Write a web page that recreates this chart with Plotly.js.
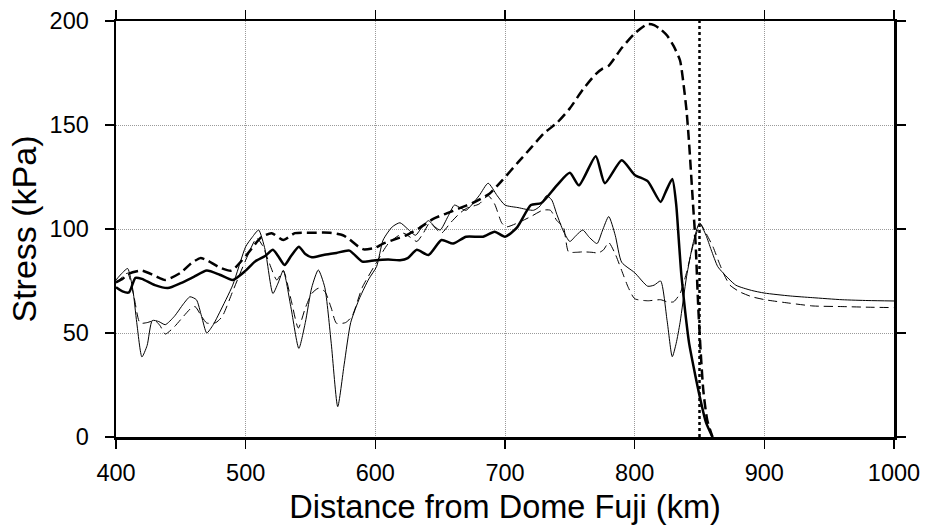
<!DOCTYPE html>
<html>
<head>
<meta charset="utf-8">
<script src="https://cdn.plot.ly/plotly-3.0.1.min.js"></script>
<style>html,body{margin:0;padding:0;background:#fff;}#chart{width:929px;height:528px;}</style>
</head>
<body>
<div id="chart"></div>
<script>
// Thick solid series
const thickSolidX = [400,405,410,415,420,430,440,450,460,470,480,490,500,507,515,521,525,530,535,541,546,551,560,570,580,590,600,610,619,625,632,641,651,660,670,683,692,700,709,720,728,740,750,757,770,777,790,800,810,820,824,829,832,834,836,839,842,846,850,855,860];
const thickSolidY = [72,70,69.5,76.5,76,73,71.6,74,77,80,78,75.5,80,84.3,87,90,87,82.7,87,91.5,88,86.4,87.5,88.5,89.6,84.3,85,85.3,85,86,90,87.5,94.7,93,96.3,96.3,98.7,96.3,100.5,111.5,112.5,121,127,121,135,122,133,126,123,113,118,124,112,95,78,60,45,32,20,7,0];

// Thick dashed series
const thickDashX = [400,405,410,420,430,438,450,458,465,470,480,489,500,512,520,529,538,550,565,575,580,587,591,600,606,615,624,634,645,655,665,675,688,698,710,720,730,740,750,760,770,775,780,790,800,810,815,820,825,830,835,838,840,842,845,847,849,851,853,856,860];
const thickDashY = [74.4,76,78.5,80,77.5,75.5,79,83.5,86,85,81.5,80,87,96,98,94.7,98,98.2,98.2,97,95,91.5,90.2,91,93,95,97,100.5,105,107.5,110,112.5,117,123.5,132,139,146,151,158,167,174.5,177,178.5,187,194,198.5,198,196,193,188,181,168,157,141,112,93,63,40,22,8,0];

// Thin solid series
const thinSolidX = [400,405,409,413,416,420,424,428,433,438,445,452,457,462,466,470,475,480,490,500,505,510,515,521,525,529,535,541,546,551,556,561,566,571,576,581,588,595,601,606,613,619,625,631,636,641,646,650,656,661,666,670,680,687,694,700,710,722,727,732,736,740,745,750,755,760,765,771,775,780,785,790,800,810,815,820,825,829,832,835,840,845,850,855,859,864,868,878,890,900,920,937,960,980,1000];
const thinSolidY = [75.5,79,81,70.7,55,38.5,44,56,55.5,54,58,64,67.4,66,58,50,54,60,73,91.5,96,99.5,90,69,74,80,62,42.6,55,72,80.3,72,45,14.6,35,55,67,76,82,94.7,101,103,100,97,101,104,101,99.5,106,111.5,110,109,116,122,116,111.5,110.3,109,111,116,114,107,99,94,97,99.5,96,93,99,106,97,84,79,72.5,73,75,56,38.6,45,55,77,93,102.9,97,90,82,79,73,70.5,69.2,67.8,67,66,65.6,65.4];

// Thin dashed series
const thinDashX = [400,405,409,414,418.5,424,430,434,438,445,452,458,461,466,470,477,482,490,500,508.5,513,518,524,529,535,540.6,546,551,556,561,566,570,577,582,590,601,610,621.6,627,632,637,642,647,651,658,665,670.5,680,687,692,697.4,701,710,720,729,735,740,745,749,755,760,767,772,776,780,785,790,795,800,810,820,825,830,835,840,845,850.6,855,860.5,865,869,873.5,881,890,900.5,920,937.5,960,980,1000];
const thinDashY = [73.9,77,78.8,67,54.8,55,56,53.5,49.5,53,58,62,62.7,58,54.8,55,58,70,85,95.6,92,84,75.5,80,66,52.4,62,69,71.5,70,62,54.7,55,58,72,84,93,98,96,94,98,103,100,98,103,107.5,110,112,116,112,103,101,103,106,109,109,104,101,89,88.8,89,88.8,88.5,90,93.5,88,80,72,66.5,65.5,66,65,65,69,79,92,102.5,98,91.3,84,78,73,69.8,67.5,66,64.3,63,62.7,62.4,62.2];

// Vertical dotted marker
const markerX = [850, 850];
const markerY = [0, 200];

const xTicks = [400,500,600,700,800,900,1000];
const yTicks = [0,50,100,150,200];

const sm = 0.6;
const traces = [
  {x: thinSolidX, y: thinSolidY, mode:'lines', line:{color:'#000', width:1, shape:'spline', smoothing:sm}, hoverinfo:'skip'},
  {x: thinDashX, y: thinDashY, mode:'lines', line:{color:'#000', width:1, dash:'9px,5px', shape:'spline', smoothing:sm}, hoverinfo:'skip'},
  {x: thickSolidX, y: thickSolidY, mode:'lines', line:{color:'#000', width:2.5, shape:'spline', smoothing:sm}, hoverinfo:'skip'},
  {x: thickDashX, y: thickDashY, mode:'lines', line:{color:'#000', width:2.5, dash:'10px,5px', shape:'spline', smoothing:sm}, hoverinfo:'skip'},
  {x: markerX, y: markerY, mode:'lines', line:{color:'#000', width:2.5, dash:'dot'}, hoverinfo:'skip'}
];

const fontFam = '"Liberation Sans", Arial, Helvetica, sans-serif';
const layout = {
  width: 929, height: 528,
  margin: {l:116, r:35, t:21, b:91, pad:0},
  paper_bgcolor:'#fff', plot_bgcolor:'#fff',
  showlegend:false,
  font:{family:fontFam, color:'#000'},
  xaxis:{
    range:[400,1000], tickvals:xTicks, ticktext:xTicks.map(String),
    ticks:'outside', ticklen:9, tickwidth:1.5, tickcolor:'#000',
    showline:true, linewidth:2.5, linecolor:'#000', mirror:'ticks',
    showgrid:true, gridcolor:'#9a9a9a', gridwidth:1, griddash:'1px,1px',
    zeroline:false, tickfont:{size:23.5, family:fontFam},
    ticklabelstandoff:4,
    title:{text:'Distance from Dome Fuji (km)', font:{size:32.5, family:fontFam}, standoff:11}
  },
  yaxis:{
    range:[0,200], tickvals:yTicks, ticktext:yTicks.map(String),
    ticks:'outside', ticklen:9, tickwidth:1.5, tickcolor:'#000',
    showline:true, linewidth:2.5, linecolor:'#000', mirror:'ticks',
    showgrid:true, gridcolor:'#9a9a9a', gridwidth:1, griddash:'1px,1px',
    zeroline:false, tickfont:{size:23.5, family:fontFam},
    ticklabelstandoff:11,
    title:{text:'Stress (kPa)', font:{size:34, family:fontFam}, standoff:3}
  }
};
Plotly.newPlot('chart', traces, layout, {staticPlot:true, displayModeBar:false});
</script>
</body>
</html>
